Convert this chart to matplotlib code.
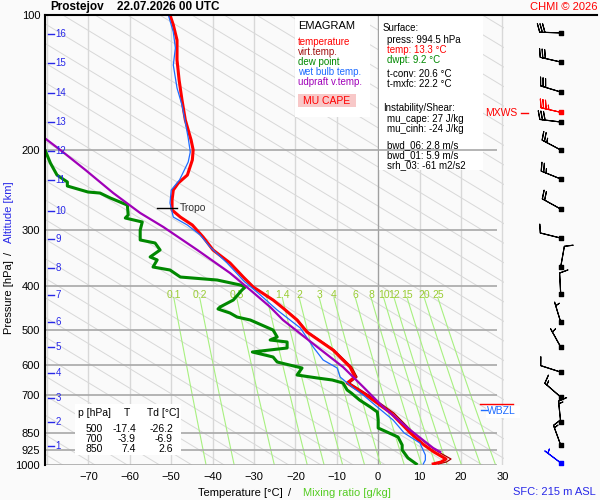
import numpy as np
import matplotlib.pyplot as plt
from matplotlib.patches import Rectangle
from matplotlib.lines import Line2D
from matplotlib.ticker import NullLocator

plt.rcParams['font.family'] = ['Liberation Sans', 'DejaVu Sans']

# --- sounding Prostejov 22.07.2026 00 UTC ---
# temperature [hPa], [degC]
temp_p = [100.0, 105.2, 113.7, 125.9, 139.4, 154.5, 171.1, 189.6, 199.5, 210.0,
          226.8, 236.3, 244.9, 257.7, 271.3, 281.2, 292.9, 311.4, 332.8, 355.7,
          382.2, 402.2, 429.9, 447.8, 476.2, 506.4, 555.3, 605.7, 637.4, 657.3,
          699.3, 766.5, 849.2, 902.9, 935.8, 969.8, 984.8, 994.5]
temp_t = [-50.3, -49.5, -48.6, -48.6, -48.1, -47.4, -46.6, -45.2, -44.7, -44.9,
          -46.1, -48.3, -49.5, -49.8, -49.8, -47.8, -44.9, -42.3, -39.9, -35.8,
          -32.6, -30.2, -25.4, -23.0, -19.6, -17.2, -10.9, -6.8, -5.6, -7.5,
          -2.9, 3.1, 7.8, 11.1, 13.5, 16.4, 15.2, 13.3]
# virtual temperature on the same levels
virt_t = [-50.3, -49.5, -48.6, -48.6, -48.1, -47.4, -46.6, -45.2, -44.7, -44.9,
          -46.1, -48.3, -49.5, -49.8, -49.8, -47.8, -44.9, -42.3, -39.9, -35.8,
          -32.5, -30.1, -25.3, -22.9, -19.4, -17.0, -10.6, -6.4, -5.1, -6.9,
          -2.3, 3.8, 8.6, 12.1, 14.6, 17.6, 16.5, 14.6]

# dew point
dwpt_p = [197.5, 199.5, 213.3, 226.8, 235.0, 239.9, 247.4, 248.7, 255.1, 264.5,
          278.3, 282.6, 288.4, 300.5, 316.2, 321.1, 332.8, 344.9, 350.2, 363.1,
          368.7, 382.2, 388.1, 398.1, 402.2, 408.4, 429.9, 445.5, 450.1, 459.5,
          469.0, 476.2, 501.2, 519.5, 527.5, 532.9, 549.5, 560.9, 575.4, 590.4,
          608.8, 631.0, 640.7, 647.3, 657.3, 681.3, 691.8, 717.1, 743.2, 762.6,
          794.3, 827.6, 835.6, 866.6, 902.9, 926.3, 964.8, 994.5]
dwpt_t = [-82.0, -80.5, -79.2, -77.6, -75.1, -75.1, -70.1, -67.2, -64.7, -60.6,
          -60.4, -61.1, -57.0, -57.5, -57.5, -53.9, -52.7, -55.1, -53.4, -54.4,
          -50.3, -47.8, -38.9, -33.3, -32.1, -32.9, -35.0, -38.2, -38.7, -35.8,
          -34.1, -30.9, -25.4, -24.4, -26.1, -22.0, -22.0, -30.4, -25.4, -24.4,
          -18.4, -19.6, -14.7, -11.1, -8.5, -7.5, -6.5, -4.5, -1.9, -0.2,
          0.0, 0.0, 1.0, 4.8, 5.8, 5.8, 7.2, 9.2]

# wet bulb temperature
wetb_p = [100.0, 109.1, 118.4, 129.2, 145.3, 158.5, 172.9, 187.6, 201.6, 212.2,
          232.6, 244.9, 261.7, 281.2, 292.9, 308.2, 327.8, 355.7, 392.1, 414.8,
          452.5, 496.1, 546.8, 584.3, 608.8, 637.4, 674.3, 699.3, 743.2, 794.3,
          849.2, 893.7, 950.2, 974.7, 994.5]
wetb_t = [-50.7, -49.5, -49.0, -49.5, -48.6, -47.4, -46.6, -45.9, -45.4, -45.9,
          -48.0, -50.0, -50.3, -49.5, -46.1, -43.0, -40.6, -36.5, -32.2, -29.0,
          -24.4, -18.8, -15.7, -13.3, -9.9, -9.2, -6.0, -3.6, -0.2, 3.6,
          6.3, 10.1, 11.4, 11.4, 10.9]

# updraft (MU parcel) virtual temperature
parc_p = [183.8, 199.5, 221.1, 248.7, 275.4, 295.9, 332.8, 374.4, 408.4, 445.5,
          476.2, 546.8, 605.7, 670.8, 743.2, 835.6, 916.8, 935.8]
parc_t = [-81.9, -76.8, -70.7, -64.0, -57.5, -51.9, -43.7, -35.8, -30.9, -26.1,
          -23.0, -14.7, -8.5, -3.6, 1.2, 7.7, 13.3, 15.0]

# wind (pressure, direction from, speed)
wind_p = [109.6, 127.2, 148.3, 172.9, 199.5, 231.4, 269.9, 313.1, 363.1, 416.9,
          481.3, 546.7, 621.7, 706.3, 802.6, 903.0]
wind_dir = [272, 283, 287, 277, 298, 292, 299, 284, 10, 357,
            343, 331, 288, 311, 354, 340]
wind_spd = [30, 30, 30, 30, 25, 25, 20, 10, 10, 10,
            5, 5, 10, 15, 15, 15]
mxws_p, mxws_dir, mxws_spd = 164.3, 283, 35
sfc_wp, sfc_dir, sfc_spd = 989.9, 307, 5

# altitude marks
alt_km = list(range(1, 17))
alt_p = [906, 804, 711, 626, 548, 482, 419, 365, 315, 272, 233, 201, 173, 149, 128, 110]

# mixing ratio lines [g/kg]
mix_w = [0.1, 0.2, 0.5, 1, 1.4, 2, 3, 4, 6, 8, 10, 12, 15, 20, 25]
mix_lab = ['0.1', '0.2', '0.5', '1', '1.4', '2', '3', '4', '6', '8',
           '10', '12', '15', '20', '25']

# table
tab_p = [500, 700, 850]
tab_t = [-17.4, -3.9, 7.4]
tab_td = [-26.2, -6.9, 2.6]

tropo_p = 268.9
plevs = [100, 200, 300, 400, 500, 600, 700, 850, 925, 1000]

W, H = 600, 500
fig = plt.figure(figsize=(6, 5), dpi=100, facecolor='#fafafa')


def ftext(x, y, s, **kw):
    kw.setdefault('va', 'center')
    return fig.text(x / W, 1 - y / H, s, **kw)


def fbox(x0, y0, x1, y1, color, z):
    r = Rectangle((x0 / W, 1 - y1 / H), (x1 - x0) / W, (y1 - y0) / H,
                  transform=fig.transFigure, facecolor=color, edgecolor='none',
                  zorder=z, clip_on=False)
    ax.add_artist(r)


ax = fig.add_axes([45 / W, 35 / H, 459.4 / W, 450 / H])
ax.set_facecolor('none')
ax.set_yscale('log')

pp = np.logspace(2, 3, 50)
# diagonal adiabat hatch
for c in np.arange(-84, 215, 7.8):
    ax.plot(c + 179.4 * np.log10(pp / 1000), pp, color='#d8d8d8', lw=0.7, zorder=1)
# isotherms
for t in range(-80, 31, 10):
    ax.axvline(t, color='#a0a0a0' if t == 0 else '#d8d8d8', lw=1, zorder=1.5)
# mixing ratio lines
pm = np.logspace(np.log10(425), 3, 60)
for w, lab in zip(mix_w, mix_lab):
    le = np.log(w * pm / (622 + w) / 6.112)
    td = 243.5 * le / (17.67 - le)
    ax.plot(td, pm, color='#a8f080', lw=0.8, zorder=1.6)
    ax.text(td[0], 419, lab, color='#99cc33', fontsize=7.5, ha='center', va='center', zorder=2)

fbox(295, 16, 370, 117, 'white', 2)
fbox(379, 16, 483, 170, 'white', 2)
fbox(75, 404, 181, 455, 'white', 4)

ax.hlines(plevs, -80.5, 28.75, colors='#a8a8a8', lw=1.2, zorder=3)

ax.plot(dwpt_t, dwpt_p, color='#008800', lw=2.2, zorder=5)
ax.plot(virt_t, temp_p, color='#a00000', lw=0.9, zorder=6)
ax.plot(temp_t, temp_p, color='#ff0000', lw=2.2, zorder=7)
ax.plot(wetb_t, wetb_p, color='#1e6cff', lw=0.9, zorder=8)
ax.plot(parc_t, parc_p, color='#a000b8', lw=1.6, zorder=9)

# tropopause
ax.plot([-53.5, -48.6], [tropo_p, tropo_p], color='black', lw=1, zorder=10)
ax.text(-48.0, tropo_p, 'Tropo', fontsize=7.5, color='#333333', va='center', zorder=10)

# altitude
for km, p in zip(alt_km, alt_p):
    ax.plot([-79.8, -78.4], [p, p], color='#2828e8', lw=1, zorder=10)
    ax.text(-78.0, p, str(km), color='#2828e8', fontsize=7, va='center', zorder=10)

ax.set_xlim(-80.5, 30.5)
ax.set_ylim(1000, 100)
ax.set_yticks(plevs)
ax.set_yticklabels([str(p) for p in plevs])
ax.yaxis.set_minor_locator(NullLocator())
ax.set_xticks(range(-70, 31, 10))
ax.tick_params(axis='y', length=0, pad=3.5, labelsize=8)
ax.tick_params(axis='x', length=0, pad=5, labelsize=8)
for s in ['top', 'right', 'bottom']:
    ax.spines[s].set_visible(False)
ax.spines['left'].set_linewidth(1.5)
ax.spines['left'].set_zorder(12)

fig.add_artist(Line2D([45 / W, 597 / W], [1 - 15 / H] * 2, color='black', lw=1.5))

# wind barbs
ax2 = fig.add_axes([500 / W, 35 / H, 100 / W, 450 / H])
ax2.set_yscale('log')
ax2.set_xlim(0, 100)
ax2.set_ylim(1000, 100)
ax2.axis('off')


def uv(d, s):
    r = np.radians(d)
    return -np.asarray(s) * np.sin(r), -np.asarray(s) * np.cos(r)


blen = 5.5
u, v = uv(np.array(wind_dir), wind_spd)
xs = np.full(len(wind_p), 60.7)
ax2.barbs(xs, wind_p, u, v, length=blen, lw=0.8, color='black', clip_on=False)
ax2.scatter(xs, wind_p, marker='s', s=6, color='black', clip_on=False, zorder=4)
u, v = uv(mxws_dir, mxws_spd)
ax2.barbs([60.7], [mxws_p], [u], [v], length=blen, lw=0.8, color='red', clip_on=False)
ax2.scatter([60.7], [mxws_p], marker='s', s=6, color='red', clip_on=False, zorder=4)
u, v = uv(sfc_dir, sfc_spd)
ax2.barbs([60.7], [sfc_wp], [u], [v], length=blen, lw=0.8, color='#0000ff', clip_on=False)
ax2.scatter([60.7], [sfc_wp], marker='s', s=6, color='#0000ff', clip_on=False, zorder=4)

# texts
ftext(50, 7, 'Prostejov', fontsize=8.5, fontweight='bold')
ftext(117, 7, '22.07.2026 00 UTC', fontsize=8.5, fontweight='bold')
ftext(597, 7, 'CHMI © 2026', fontsize=8, color='red', ha='right')

ftext(298, 26, 'EMAGRAM', fontsize=8)
ftext(298, 42, 'temperature', fontsize=7, color='#ff0000')
ftext(298, 52, 'virt.temp.', fontsize=7, color='#a01010')
ftext(298, 62, 'dew point', fontsize=7, color='#008800')
ftext(298, 72, 'wet bulb temp.', fontsize=7, color='#1e6cff')
ftext(298, 82, 'udpraft v.temp.', fontsize=7, color='#a000b8')
fig.add_artist(Rectangle((298 / W, 1 - 107 / H), 58 / W, 13 / H,
                         transform=fig.transFigure, facecolor='#f8c8c8', edgecolor='none', zorder=2.5))
ftext(303, 101, 'MU CAPE', fontsize=7.5, color='red')

ftext(383, 28, 'Surface:', fontsize=7)
ftext(387, 40, 'press: 994.5 hPa', fontsize=7)
ftext(387, 50, 'temp: 13.3 °C', fontsize=7, color='#ff0000')
ftext(387, 60, 'dwpt: 9.2 °C', fontsize=7, color='#008800')
ftext(387, 74, 't-conv: 20.6 °C', fontsize=7)
ftext(387, 84, 't-mxfc: 22.2 °C', fontsize=7)
ftext(383, 108, 'Instability/Shear:', fontsize=7)
ftext(387, 119, 'mu_cape: 27 J/kg', fontsize=7)
ftext(387, 129, 'mu_cinh: -24 J/kg', fontsize=7)
ftext(387, 145, 'bwd_06: 2.8 m/s', fontsize=7)
ftext(387, 155, 'bwd_01: 5.9 m/s', fontsize=7)
ftext(387, 165, 'srh_03: -61 m2/s2', fontsize=7)

ftext(517, 113, 'MXWS', fontsize=7.5, color='red', ha='right')
fig.add_artist(Line2D([521 / W, 528 / W], [1 - 113 / H] * 2, color='red', lw=1))

fig.add_artist(Line2D([480 / W, 513 / W], [1 - 404 / H] * 2, color='red', lw=1, zorder=3))
fig.add_artist(Rectangle((486 / W, 1 - 418 / H), 34 / W, 12 / H,
                         transform=fig.transFigure, facecolor='white', edgecolor='none', zorder=3.5))
fig.add_artist(Line2D([481 / W, 487 / W], [1 - 409.5 / H] * 2, color='#1e6cff', lw=1, zorder=4))
ftext(487, 411, 'WBZL', fontsize=7.5, color='#1e6cff', zorder=5)

# table
ftext(78, 413, 'p [hPa]', fontsize=7.5)
ftext(127, 413, 'T', fontsize=7.5, ha='center')
ftext(147, 413, 'Td [°C]', fontsize=7.5)
for i, (p, t, td) in enumerate(zip(tab_p, tab_t, tab_td)):
    y = 429 + i * 9.8
    ftext(103, y, str(p), fontsize=7.5, ha='right')
    ftext(136, y, f'{t:.1f}', fontsize=7.5, ha='right')
    ftext(173, y, f'{td:.1f}', fontsize=7.5, ha='right')

# axis labels
ftext(9, 297, 'Pressure [hPa]', fontsize=8, rotation=90, ha='center')
ftext(9, 253, '/', fontsize=8, rotation=90, ha='center')
ftext(9, 212, 'Altitude [km]', fontsize=8, rotation=90, ha='center', color='#2828e8')
ftext(198, 493, 'Temperature [°C]', fontsize=8)
ftext(288, 493, '/', fontsize=8)
ftext(303, 493, 'Mixing ratio [g/kg]', fontsize=8, color='#55cc22')
ftext(513, 492, 'SFC: 215 m ASL', fontsize=8, color='#2828e8')

fig.savefig('out.png', dpi=100, facecolor=fig.get_facecolor())
